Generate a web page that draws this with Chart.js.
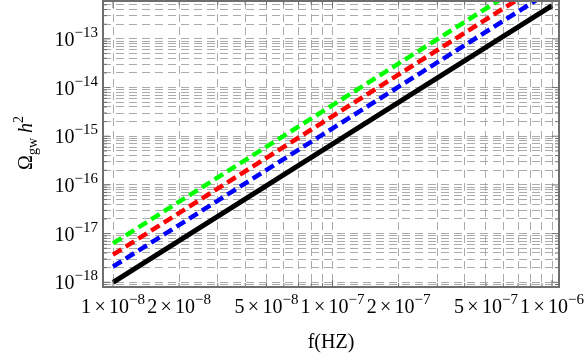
<!DOCTYPE html>
<html lang="en">
<head>
    <meta charset="UTF-8">
    <title>Omega_gw h^2 vs f</title>
    <script src="https://cdn.jsdelivr.net/npm/chart.js"></script>
    <style>
        body { margin: 0; background: #fff; }
    </style>
</head>
<body>
    <canvas id="gwChart" width="584" height="360"></canvas>

    <script>
        // values (log-log, straight lines)
        const freqs = [1e-8, 1e-6];
        const blackVals = [1.0e-18, 4.8e-13];
        const blueVals = [2.1e-18, 1.0e-12];
        const redVals = [3.7e-18, 1.8e-12];
        const greenVals = [6.3e-18, 3.0e-12];

        // tick labels
        const xTickVals = [1e-8, 2e-8, 5e-8, 1e-7, 2e-7, 5e-7, 1e-6];
        const xTickMant = ['1', '2', '5', '1', '2', '5', '1'];
        const xTickExp = ['−8', '−8', '−8', '−7', '−7', '−7', '−6'];
        const yTickVals = [1e-18, 1e-17, 1e-16, 1e-15, 1e-14, 1e-13];
        const yTickExp = ['−18', '−17', '−16', '−15', '−14', '−13'];

        const xMin = 9.2e-9, xMax = 1.076e-6;
        const yMin = 8.0e-19, yMax = 6.0e-13;

        const serif = '"Liberation Serif", "DejaVu Serif", serif';
        const frameColor = '#6e6e6e';

        // grid lines at every 1..9 x 10^k inside the range
        function logGrid(min, max) {
            const out = [];
            for (let e = Math.floor(Math.log10(min)); e <= Math.ceil(Math.log10(max)); e++) {
                for (let m = 1; m <= 9; m++) {
                    const v = m * Math.pow(10, e);
                    if (v >= min && v <= max) out.push({ value: v, major: m === 1 });
                }
            }
            return out;
        }

        function pts(vals) {
            return vals.map((v, i) => ({ x: freqs[i], y: v }));
        }

        // frame, inside ticks and the superscript labels
        const decorPlugin = {
            id: 'decor',
            afterDraw(chart) {
                const ctx = chart.ctx;
                const a = chart.chartArea;
                const xs = chart.scales.x, ys = chart.scales.y;
                ctx.save();

                // frame
                ctx.strokeStyle = frameColor;
                ctx.lineWidth = 2;
                ctx.strokeRect(a.left, a.top, a.right - a.left, a.bottom - a.top);

                // ticks on all four sides, pointing inward
                ctx.lineWidth = 1;
                xs.ticks.forEach(t => {
                    const px = xs.getPixelForValue(t.value);
                    const len = t.major ? 7 : 4;
                    ctx.beginPath();
                    ctx.moveTo(px, a.bottom); ctx.lineTo(px, a.bottom - len);
                    ctx.moveTo(px, a.top); ctx.lineTo(px, a.top + len);
                    ctx.stroke();
                });
                ys.ticks.forEach(t => {
                    const py = ys.getPixelForValue(t.value);
                    const len = t.major ? 7 : 4;
                    ctx.beginPath();
                    ctx.moveTo(a.left, py); ctx.lineTo(a.left + len, py);
                    ctx.moveTo(a.right, py); ctx.lineTo(a.right - len, py);
                    ctx.stroke();
                });

                ctx.fillStyle = '#000';
                ctx.textAlign = 'left';
                ctx.textBaseline = 'alphabetic';
                const big = '20px ' + serif, small = '15px ' + serif;

                // y labels: 10^-n
                yTickVals.forEach((v, i) => {
                    const py = ys.getPixelForValue(v);
                    ctx.font = big;
                    const wBase = ctx.measureText('10').width;
                    ctx.font = small;
                    const wExp = ctx.measureText(yTickExp[i]).width;
                    const x0 = a.left - 5 - wBase - wExp;
                    ctx.font = big;
                    ctx.fillText('10', x0, py + 7);
                    ctx.font = small;
                    ctx.fillText(yTickExp[i], x0 + wBase, py - 2);
                });

                // x labels: m x 10^-n
                xTickVals.forEach((v, i) => {
                    const px = xs.getPixelForValue(v);
                    const base = xTickMant[i] + '\u2006×\u200610';
                    ctx.font = big;
                    const wBase = ctx.measureText(base).width;
                    ctx.font = small;
                    const wExp = ctx.measureText(xTickExp[i]).width;
                    const x0 = px - (wBase + wExp) / 2;
                    ctx.font = big;
                    ctx.fillText(base, x0, a.bottom + 26);
                    ctx.font = small;
                    ctx.fillText(xTickExp[i], x0 + wBase, a.bottom + 17);
                });

                // x title
                ctx.font = big;
                ctx.textAlign = 'center';
                ctx.fillText('f(HZ)', (a.left + a.right) / 2, 348);

                // y title, rotated: Omega_gw h^2
                ctx.translate(32, 143);
                ctx.rotate(-Math.PI / 2);
                ctx.textAlign = 'left';
                const parts = [
                    { t: 'Ω', f: big, dy: 0 },
                    { t: 'gw', f: '14px ' + serif, dy: 5 },
                    { t: ' ', f: big, dy: 0 },
                    { t: 'h', f: 'italic ' + big, dy: 0 },
                    { t: '2', f: '14px ' + serif, dy: -9 }
                ];
                let total = 0;
                parts.forEach(p => { ctx.font = p.f; p.w = ctx.measureText(p.t).width; total += p.w; });
                let cx = -total / 2;
                parts.forEach(p => {
                    ctx.font = p.f;
                    ctx.fillText(p.t, cx, p.dy);
                    cx += p.w;
                });

                ctx.restore();
            }
        };

        const gridOpts = {
            color: '#ababab',
            lineWidth: 1,
            drawTicks: false
        };

        const ctx = document.getElementById('gwChart').getContext('2d');
        new Chart(ctx, {
            type: 'line',
            data: {
                datasets: [
                    { data: pts(greenVals), borderColor: '#00ff00', borderWidth: 4.5, borderDash: [10, 5] },
                    { data: pts(redVals), borderColor: '#ff0000', borderWidth: 4.5, borderDash: [10, 5] },
                    { data: pts(blueVals), borderColor: '#0000ff', borderWidth: 4.5, borderDash: [10, 5] },
                    { data: pts(blackVals), borderColor: '#000000', borderWidth: 5 }
                ]
            },
            options: {
                responsive: false,
                animation: false,
                layout: { padding: { top: 1, right: 25, left: 0, bottom: 0 } },
                elements: {
                    point: { radius: 0 },
                    line: { tension: 0, fill: false, borderCapStyle: 'butt' }
                },
                datasets: { line: { clip: 0 } },
                plugins: {
                    legend: { display: false },
                    tooltip: { enabled: false }
                },
                scales: {
                    x: {
                        type: 'logarithmic',
                        min: xMin,
                        max: xMax,
                        afterBuildTicks: s => { s.ticks = logGrid(xMin, xMax); },
                        afterFit: s => { s.height = 73; },
                        ticks: { display: false },
                        grid: gridOpts,
                        border: { display: false, dash: [8, 5] }
                    },
                    y: {
                        type: 'logarithmic',
                        min: yMin,
                        max: yMax,
                        afterBuildTicks: s => { s.ticks = logGrid(yMin, yMax); },
                        afterFit: s => { s.width = 103; },
                        ticks: { display: false },
                        grid: gridOpts,
                        border: { display: false, dash: [8, 5] }
                    }
                }
            },
            plugins: [decorPlugin]
        });
    </script>
</body>
</html>
